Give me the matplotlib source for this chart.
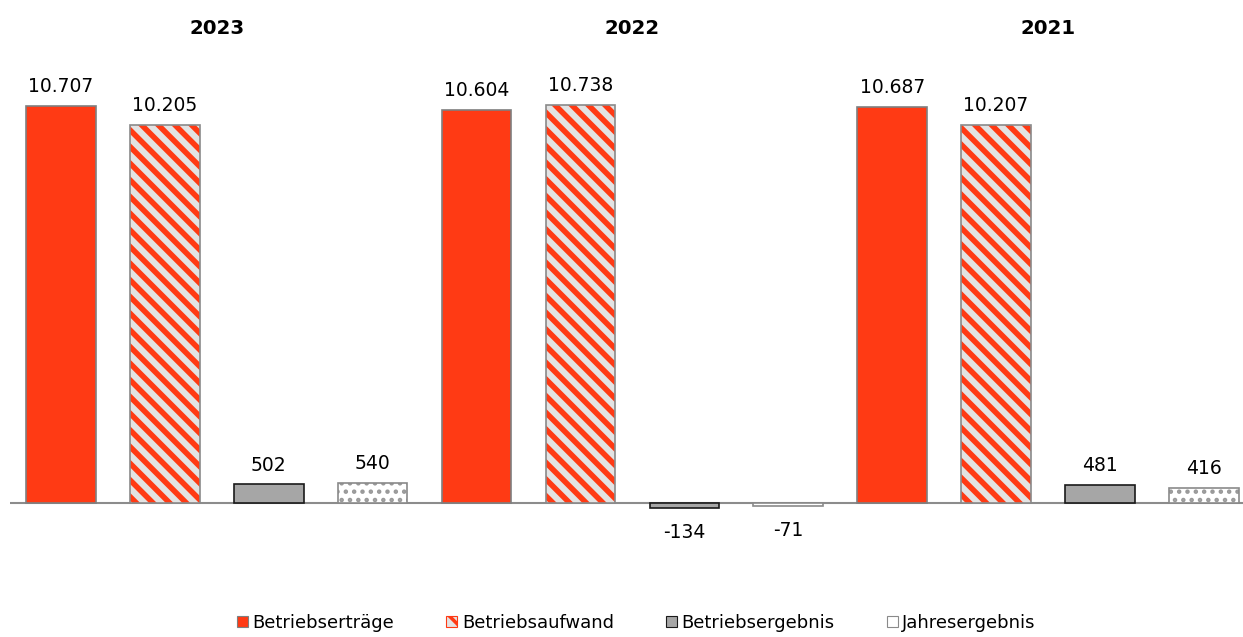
import matplotlib
matplotlib.use("Agg")
import matplotlib.pyplot as plt
from matplotlib.patches import Patch
from matplotlib.transforms import blended_transform_factory

years = ["2023", "2022", "2021"]
series = ["Betriebserträge", "Betriebsaufwand", "Betriebsergebnis", "Jahresergebnis"]
ertraege = [10707, 10604, 10687]
aufwand = [10205, 10738, 10207]
betriebsergebnis = [502, -134, 481]
jahresergebnis = [540, -71, 416]

RED = "#ff3a14"
styles = [
    dict(facecolor=RED, edgecolor="#7f7f7f", hatch=None, hlw=1.0),
    dict(facecolor="#e3e3e3", edgecolor=RED, hatch="\\\\", hlw=4.0),
    dict(facecolor="#a6a6a6", edgecolor="#1a1a1a", hatch=None, hlw=1.0),
    dict(facecolor="white", edgecolor="#999999", hatch="..", hlw=2.0),
]

plt.rcParams["font.family"] = ["DejaVu Sans"]


def hatch_lw(patch, lw):
    # per-artist hatch width (mpl >= 3.10), rcParams fallback otherwise
    if hasattr(patch, "set_hatch_linewidth"):
        patch.set_hatch_linewidth(lw)


fig = plt.figure(figsize=(12.43, 6.37), dpi=100)
ax = fig.add_axes([10 / 1243, 77 / 637, 1 - 10 / 1243, 500 / 637])
ax.set_xlim(-0.49, 11.376)
ax.set_ylim(-1537, 11947)
ax.axis("off")

values = [ertraege, aufwand, betriebsergebnis, jahresergebnis]
width = 0.67
for s, (vals, st) in enumerate(zip(values, styles)):
    plt.rcParams["hatch.linewidth"] = st["hlw"]
    for g, v in enumerate(vals):
        x = g * 4 + s
        b = ax.bar(x, v, width, color=st["facecolor"], lw=1.2, zorder=2)[0]
        if st["hatch"]:
            b.set_hatch(st["hatch"])
            b.set_edgecolor(st["edgecolor"])
            b.set_linewidth(0)
            hatch_lw(b, st["hlw"])
            ax.bar(x, v, width, fill=False, edgecolor="#8a8a8a", lw=1.2, zorder=3)
        else:
            b.set_edgecolor(st["edgecolor"])
        lbl = f"{v:,}".replace(",", ".")
        if v >= 0:
            ax.annotate(lbl, (x, v), xytext=(0, 7), textcoords="offset points",
                        ha="center", va="bottom", fontsize=13.5)
        else:
            ax.annotate(lbl, (x, v), xytext=(0, -11), textcoords="offset points",
                        ha="center", va="top", fontsize=13.5)

ax.axhline(0, color="#8c8c8c", lw=1.5, zorder=1)

trans = blended_transform_factory(ax.transData, ax.transAxes)
for g, yr in enumerate(years):
    ax.text(g * 4 + 1.5, 1.064, yr, transform=trans, ha="center", va="center",
            fontsize=14.2, fontweight="bold")

plt.rcParams["hatch.linewidth"] = 2.5
handles = []
for name, st in zip(series, styles):
    if st["hatch"] is None:
        ec = st["edgecolor"]
    elif st["edgecolor"] == RED:
        ec = RED
    else:
        ec = "#8a8a8a"
    hatch = "\\" if st["hatch"] == "\\\\" else None
    handles.append(Patch(facecolor=st["facecolor"], edgecolor=ec, hatch=hatch,
                         lw=0.8, label=name))
fig.legend(handles=handles, loc="center", bbox_to_anchor=(0.512, 0.022), ncol=4,
           frameon=False, fontsize=13, handlelength=0.6, handleheight=0.6,
           handletextpad=0.25, columnspacing=2.9)

fig.savefig("out.png", dpi=100)
